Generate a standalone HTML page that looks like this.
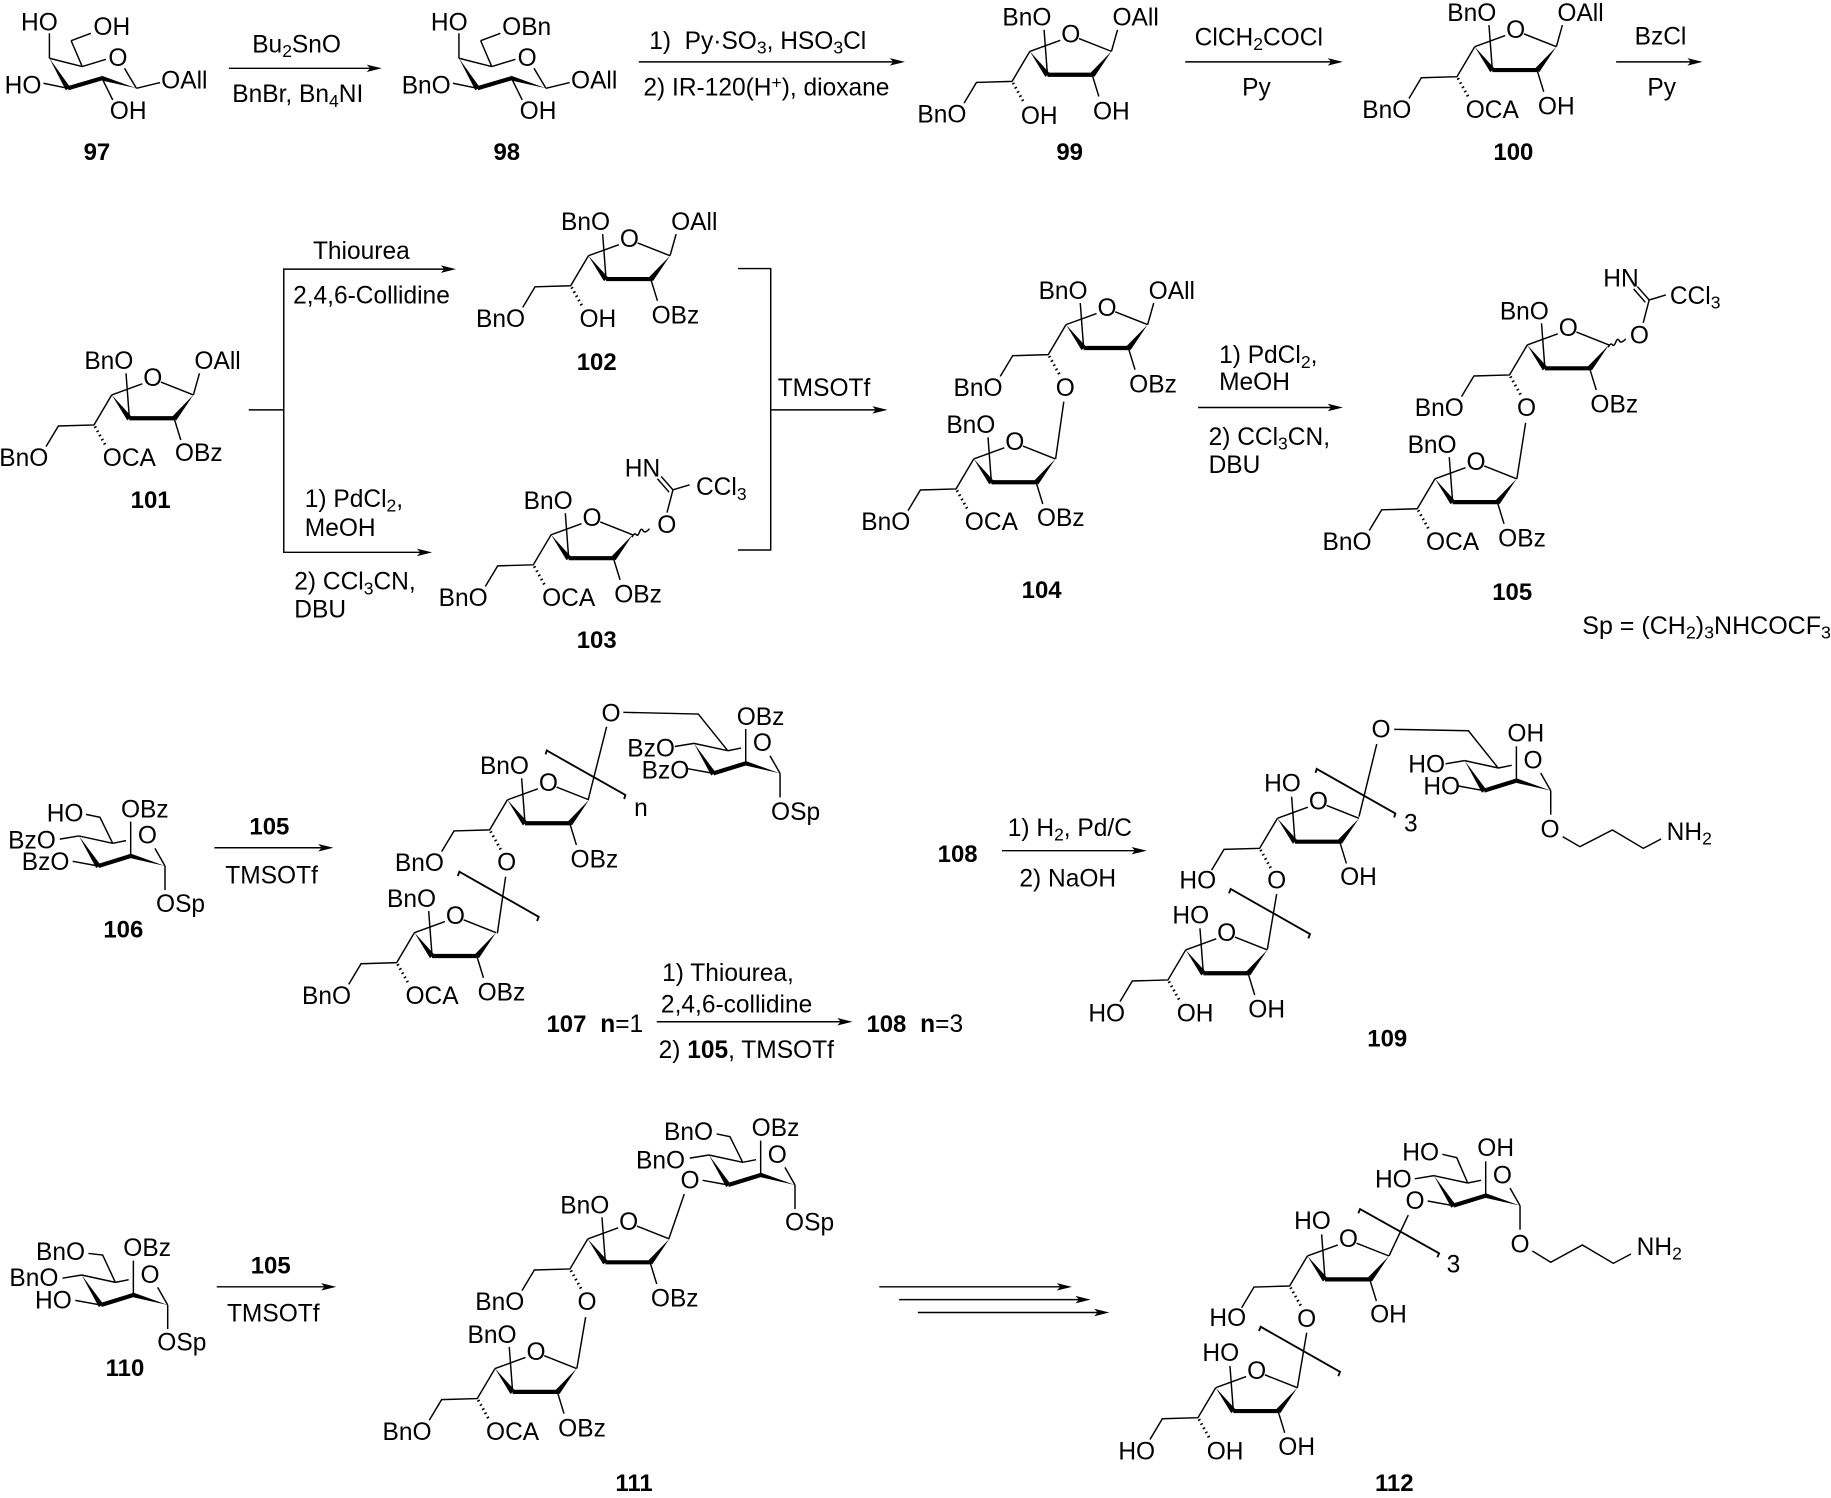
<!DOCTYPE html>
<html><head><meta charset="utf-8"><style>
html,body{margin:0;padding:0;background:#fff;width:1831px;height:1498px;overflow:hidden}
svg{display:block}
text{font-family:"Liberation Sans",Arial,sans-serif;font-size:21px;fill:#000}
.e{text-anchor:end}.m{text-anchor:middle}
.b{font-weight:bold;font-size:20.5px}
.s{font-size:15px}
.bw{font-weight:bold}
line,polyline,path{stroke:#000;stroke-width:1.25;fill:none}
.thick{stroke-width:3.6}
.br{stroke-width:1.6}
polygon{fill:#000;stroke:none}
.h{stroke-width:2.4;stroke-dasharray:1.3 2.8}
</style></head><body>
<svg xmlns="http://www.w3.org/2000/svg" width="1831" height="1498" viewBox="0 0 1568 1282.85">
<defs>
<g id="f">
<line x1="-2.9" y1="-38.5" x2="0" y2="0"/>
<polygon points="-15.1,-20 -1.8,1.8 1.9,-1.3"/>
<line class="thick" x1="0" y1="0" x2="38.3" y2="0"/>
<polygon points="54.8,-20 36.2,-1 40.2,1.8"/>
<line x1="54.8" y1="-20" x2="27" y2="-31"/>
<line x1="11" y1="-29.5" x2="-15.1" y2="-20"/>
<polyline points="-15.1,-20 -30.3,5.7 -60.8,6.6 -71.4,24.3"/>
<line x1="38.3" y1="0" x2="44" y2="18.6"/>
</g>
<line id="hb" class="h" x1="-29.5" y1="7" x2="-20" y2="24"/>
<line id="oa" x1="54.8" y1="-20" x2="60" y2="-38.5"/>
<g id="imi">
<path d="M54.2 -18 q2 -4 3.5 -2.2 t3 -2.2 t3 -1.2 t5.5 -1.6"/>
<line x1="84.2" y1="-39" x2="89.3" y2="-58.5"/>
<line x1="89.3" y1="-58.5" x2="79.2" y2="-70"/>
<line x1="86" y1="-56.5" x2="76" y2="-68"/>
<line x1="89.3" y1="-58.5" x2="103.6" y2="-62.8"/>
</g>
<g id="pa">
<polygon points="-15.9,-25.7 -1.8,1.8 1.8,-1"/>
<line class="thick" x1="0" y1="0" x2="29.1" y2="-8.6"/>
<polygon points="58.6,0 28.6,-10.8 29.4,-6.6"/>
<line x1="-15.9" y1="-25.7" x2="12.2" y2="-18.6"/>
<line x1="12.2" y1="-18.6" x2="32.5" y2="-24.8"/>
<line x1="58.6" y1="0" x2="48.4" y2="-17.1"/>
<line x1="12.2" y1="-18.6" x2="2.7" y2="-40.8"/>
<line x1="2.7" y1="-40.8" x2="19.6" y2="-47.1"/>
<line x1="-15.9" y1="-25.7" x2="-15.9" y2="-47.1"/>
<line x1="0" y1="0" x2="-21" y2="-4.3"/>
<line x1="29.1" y1="-8.6" x2="38.3" y2="10"/>
<line x1="58.6" y1="0" x2="78.9" y2="-4.9"/>
</g>
<g id="pb">
<polygon points="-16.6,-25.7 -1.8,1.8 1.8,-1"/>
<line class="thick" x1="0" y1="0" x2="27.7" y2="-8.6"/>
<polygon points="57.1,0 27.2,-10.8 28,-6.6"/>
<line x1="-16.6" y1="-25.7" x2="12.3" y2="-19.4"/>
<line x1="12.3" y1="-19.4" x2="23.7" y2="-21.7"/>
<line x1="57.1" y1="0" x2="48.5" y2="-15.1"/>
<line x1="27.7" y1="-8.6" x2="27.7" y2="-38"/>
<line x1="57.1" y1="0" x2="57.1" y2="20.6"/>
<line x1="-16.6" y1="-25.7" x2="-33" y2="-23"/>
<line x1="0" y1="0" x2="-22" y2="-4"/>
</g>
<polyline id="bu" class="br" points="17.6,-59 18.6,-62.3 85.9,-24.2 84.9,-20.7"/>
<polyline id="bl" class="br" points="22,-68.5 23.4,-72.2 91.3,-33.6 89.9,-29.9"/>
<polygon id="ah" points="0,0 -13,-3.2 -10,0 -13,3.2"/>
</defs>

<!-- 97 -->
<g transform="translate(58.2 75.6)"><use href="#pa"/></g>
<text x="18" y="26">HO</text><text x="80" y="30">OH</text><text x="4" y="80">HO</text><text class="m" x="101" y="56.5">O</text><text x="138" y="76">OAll</text><text x="94" y="102">OH</text><text class="b m" x="83" y="137">97</text>
<!-- arrow 1 -->
<line x1="196" y1="58.5" x2="320" y2="58.5"/><use href="#ah" x="327" y="58.5"/>
<text class="m" x="254" y="45">Bu<tspan class="s" dy="4">2</tspan><tspan dy="-4">SnO</tspan></text>
<text class="m" x="255" y="87.5">BnBr, Bn<tspan class="s" dy="4">4</tspan><tspan dy="-4">NI</tspan></text>
<!-- 98 -->
<g transform="translate(408.9 75.6)"><use href="#pa"/></g>
<text x="369" y="26">HO</text><text x="430" y="30">OBn</text><text x="344" y="80">BnO</text><text class="m" x="451.5" y="56.5">O</text><text x="489" y="76">OAll</text><text x="445" y="102">OH</text><text class="b m" x="434" y="137">98</text>
<!-- arrow 2 -->
<line x1="547" y1="53" x2="768" y2="53"/><use href="#ah" x="775" y="53"/>
<text x="556" y="42">1)&#160;&#160;Py·SO<tspan class="s" dy="4">3</tspan><tspan dy="-4">, HSO</tspan><tspan class="s" dy="4">3</tspan><tspan dy="-4">Cl</tspan></text>
<text x="551" y="82">2) IR-120(H<tspan class="s" dy="-6">+</tspan><tspan dy="6">), dioxane</tspan></text>
<!-- 99 -->
<g transform="translate(897 64)"><use href="#f"/><use href="#oa"/><use href="#hb"/>
<text class="e" x="3.4" y="-42">BnO</text><text class="m" x="20" y="-27.5">O</text><text x="55.7" y="-42">OAll</text><text class="e" x="-69.4" y="41">BnO</text><text x="-22.8" y="42">OH</text><text x="39" y="38.5">OH</text></g>
<text class="b m" x="916" y="137">99</text>
<!-- arrow 3 -->
<line x1="1015" y1="53" x2="1143" y2="53"/><use href="#ah" x="1150" y="53"/>
<text class="m" x="1078" y="39">ClCH<tspan class="s" dy="4">2</tspan><tspan dy="-4">COCl</tspan></text>
<text class="m" x="1076" y="82">Py</text>
<!-- 100 -->
<g transform="translate(1278 60)"><use href="#f"/><use href="#oa"/><use href="#hb"/>
<text class="e" x="3.4" y="-42">BnO</text><text class="m" x="20" y="-27.5">O</text><text x="55.7" y="-42">OAll</text><text class="e" x="-69.4" y="41">BnO</text><text x="-22.8" y="41">OCA</text><text x="39" y="38">OH</text></g>
<text class="b m" x="1296" y="137">100</text>
<!-- arrow 4 -->
<line x1="1384" y1="53" x2="1451" y2="53"/><use href="#ah" x="1458" y="53"/>
<text class="m" x="1422" y="38">BzCl</text><text class="m" x="1423" y="82">Py</text>

<!-- 101 -->
<g transform="translate(110.8 358.2)"><use href="#f"/><use href="#oa"/><use href="#hb"/>
<text class="e" x="3.4" y="-42">BnO</text><text class="m" x="20" y="-27.5">O</text><text x="55.7" y="-42">OAll</text><text class="e" x="-69.4" y="41">BnO</text><text x="-22.8" y="41">OCA</text><text x="39" y="36.5">OBz</text></g>
<text class="b m" x="129" y="435">101</text>
<!-- split -->
<polyline points="213,351 243,351"/>
<polyline points="384,230.5 243,230.5 243,473 363,473"/><use href="#ah" x="390.5" y="230.5"/><use href="#ah" x="370" y="473"/>
<text x="268" y="222">Thiourea</text><text x="251" y="260">2,4,6-Collidine</text>
<text x="261" y="434">1) PdCl<tspan class="s" dy="4">2</tspan><tspan dy="-4">,</tspan></text><text x="261" y="459">MeOH</text>
<text x="252" y="505">2) CCl<tspan class="s" dy="4">3</tspan><tspan dy="-4">CN,</tspan></text><text x="252" y="529">DBU</text>
<!-- 102 -->
<g transform="translate(519 239)"><use href="#f"/><use href="#oa"/><use href="#hb"/>
<text class="e" x="3.4" y="-42">BnO</text><text class="m" x="20" y="-27.5">O</text><text x="55.7" y="-42">OAll</text><text class="e" x="-69.4" y="41">BnO</text><text x="-22.8" y="41">OH</text><text x="39" y="38">OBz</text></g>
<text class="b m" x="511" y="317">102</text>
<!-- 103 -->
<g transform="translate(487 478)"><use href="#f"/><use href="#imi"/><use href="#hb"/>
<text class="e" x="3.4" y="-42">BnO</text><text class="m" x="20" y="-27.5">O</text><text class="m" x="84" y="-21.4">O</text><text x="48" y="-70">HN</text><text x="109" y="-54">CCl<tspan class="s" dy="4">3</tspan></text><text class="e" x="-69.4" y="41">BnO</text><text x="-22.8" y="41">OCA</text><text x="39" y="38">OBz</text></g>
<text class="b m" x="511" y="555">103</text>
<!-- bracket -->
<polyline points="632,230 660,230 660,471 632,471"/>
<line x1="660" y1="351" x2="753" y2="351"/><use href="#ah" x="760" y="351"/>
<text x="666" y="339">TMSOTf</text>
<!-- 104 -->
<g transform="translate(928 298)"><use href="#f"/><use href="#oa"/><use href="#hb"/>
<text class="e" x="3.4" y="-42">BnO</text><text class="m" x="20" y="-27.5">O</text><text x="55.7" y="-42">OAll</text><text class="e" x="-69.4" y="41">BnO</text><text class="m" x="-15.7" y="41">O</text><text x="39" y="38">OBz</text></g>
<line x1="911" y1="344" x2="904" y2="393"/>
<g transform="translate(849 413)"><use href="#f"/><use href="#hb"/>
<text class="e" x="3.4" y="-42">BnO</text><text class="m" x="20" y="-27.5">O</text><text class="e" x="-69.4" y="41">BnO</text><text x="-22.8" y="41">OCA</text><text x="39" y="37.5">OBz</text></g>
<text class="b m" x="892" y="512">104</text>
<!-- arrow -->
<line x1="1026" y1="349" x2="1143" y2="349"/><use href="#ah" x="1150" y="349"/>
<text x="1044" y="311">1) PdCl<tspan class="s" dy="4">2</tspan><tspan dy="-4">,</tspan></text><text x="1044" y="334">MeOH</text>
<text x="1035" y="381">2) CCl<tspan class="s" dy="4">3</tspan><tspan dy="-4">CN,</tspan></text><text x="1035" y="405">DBU</text>
<!-- 105 -->
<g transform="translate(1323 315.4)"><use href="#f"/><use href="#imi"/><use href="#hb"/>
<text class="e" x="3.4" y="-42">BnO</text><text class="m" x="20" y="-27.5">O</text><text class="m" x="81" y="-21.4">O</text><text x="50" y="-70">HN</text><text x="107" y="-55">CCl<tspan class="s" dy="4">3</tspan></text><text class="e" x="-69.4" y="41">BnO</text><text class="m" x="-15.7" y="41">O</text><text x="39" y="38">OBz</text></g>
<line x1="1306.5" y1="362" x2="1299" y2="410"/>
<g transform="translate(1244 430)"><use href="#f"/><use href="#hb"/>
<text class="e" x="3.4" y="-42">BnO</text><text class="m" x="20" y="-27.5">O</text><text class="e" x="-69.4" y="41">BnO</text><text x="-22.8" y="41">OCA</text><text x="39" y="38">OBz</text></g>
<text class="b m" x="1295" y="514">105</text>
<text x="1355" y="543" textLength="213" lengthAdjust="spacingAndGlyphs">Sp = (CH<tspan class="s" dy="4">2</tspan><tspan dy="-4">)</tspan><tspan class="s" dy="4">3</tspan><tspan dy="-4">NHCOCF</tspan><tspan class="s" dy="4">3</tspan></text>

<!-- 106 -->
<g transform="translate(84.2 741.6)"><use href="#pb"/>
<polyline points="12.3,-19.4 1.4,-41.7 -10.6,-44.2"/></g>
<text x="40" y="703.7">HO</text><text x="103.6" y="700">OBz</text><text x="7" y="726.5">BzO</text><text x="18.6" y="745">BzO</text><text class="m" x="126.2" y="722.5">O</text><text x="133.6" y="781">OSp</text>
<text class="b m" x="105.6" y="802.7">106</text>
<line x1="183.6" y1="726" x2="278.5" y2="726"/><use href="#ah" x="285.5" y="726"/>
<text class="b m" x="230.7" y="714.5">105</text><text class="m" x="232.6" y="756.5">TMSOTf</text>
<!-- 107 -->
<g transform="translate(449.6 705)"><use href="#f"/><use href="#bu"/><use href="#hb"/>
<text class="e" x="3.4" y="-42">BnO</text><text class="m" x="20" y="-27.5">O</text><text class="e" x="-69.4" y="41">BnO</text><text class="m" x="-15.7" y="40.6">O</text><text x="39" y="38">OBz</text></g>
<line x1="503.8" y1="684.5" x2="519.5" y2="622.3"/>
<text class="m" x="523.3" y="618">O</text>
<text x="543" y="699">n</text>
<line x1="433" y1="750.8" x2="425.9" y2="799.3"/>
<g transform="translate(370 818.7)"><use href="#f"/><use href="#bl"/><use href="#hb"/>
<text class="e" x="3.4" y="-42">BnO</text><text class="m" x="20" y="-27.5">O</text><text class="e" x="-69.4" y="41">BnO</text><text x="-22.8" y="41">OCA</text><text x="39" y="38">OBz</text></g>
<g transform="translate(610.9 662.3)"><use href="#pb"/></g>
<polyline points="533.8,610 598,611.5 623.2,642.9"/>
<text x="630.9" y="620.9">OBz</text><text x="537.2" y="648">BzO</text><text x="549.5" y="666.5">BzO</text><text class="m" x="652.9" y="643.3">O</text><text x="660.3" y="702.2">OSp</text>
<text class="b" x="468" y="884">107</text><text x="514" y="884"><tspan class="bw">n</tspan>=1</text>
<!-- arrow 107-108 -->
<line x1="562.4" y1="875" x2="723" y2="875"/><use href="#ah" x="730" y="875"/>
<text x="567" y="840">1) Thiourea,</text><text x="566" y="867">2,4,6-collidine</text><text x="564" y="906">2) <tspan class="bw">105</tspan>, TMSOTf</text>
<text class="b" x="742" y="884">108</text><text x="788" y="884"><tspan class="bw">n</tspan>=3</text>
<!-- 108 arrow -->
<text class="b" x="803" y="738">108</text>
<line x1="858" y1="728.5" x2="975" y2="728.5"/><use href="#ah" x="982" y="728.5"/>
<text x="863" y="716">1) H<tspan class="s" dy="4">2</tspan><tspan dy="-4">, Pd/C</tspan></text><text x="873" y="759">2) NaOH</text>
<!-- 109 -->
<g transform="translate(1109 720.8)"><use href="#f"/><use href="#bu"/><use href="#hb"/>
<text x="-26.5" y="-43">HO</text><text class="m" x="20" y="-27.5">O</text><text x="-99" y="40">HO</text><text class="m" x="-15.7" y="40">O</text><text x="38.6" y="37">OH</text></g>
<line x1="1179" y1="637.2" x2="1163.8" y2="699.4"/>
<text class="m" x="1182.7" y="631.7">O</text><text x="1202.4" y="712.2">3</text>
<line x1="1093.3" y1="765.6" x2="1085.3" y2="813"/>
<g transform="translate(1030.5 833.5)"><use href="#f"/><use href="#bl"/><use href="#hb"/>
<text x="-26.5" y="-42.8">HO</text><text class="m" x="20" y="-27.5">O</text><text x="-98.5" y="41.5">HO</text><text x="-22.8" y="41.5">OH</text><text x="38.5" y="37.7">OH</text></g>
<g transform="translate(1270.9 677.1)"><use href="#pb"/></g>
<polyline points="1194,624.6 1257.5,625.8 1283.2,658"/>
<text x="1206" y="661.7">HO</text><text x="1218.9" y="680.3">HO</text><text x="1290.9" y="635.2">OH</text><text class="m" x="1312.9" y="658.1">O</text>
<text class="m" x="1327.4" y="717.4">O</text>
<polyline points="1338.2,716.5 1353,725.1 1380.8,710.8 1407.3,726.5 1422.5,718.5"/>
<text x="1427.3" y="719.4">NH<tspan class="s" dy="4">2</tspan></text>
<text class="b m" x="1188" y="896">109</text>

<!-- 110 -->
<g transform="translate(86.5 1117.6)"><use href="#pb"/>
<polyline points="12.3,-19.4 1.4,-42.8 -10.8,-44.2"/></g>
<text x="30.8" y="1079">BnO</text><text x="105.6" y="1075.6">OBz</text><text x="8" y="1101.3">BnO</text><text x="30" y="1120.5">HO</text><text class="m" x="128.5" y="1098.6">O</text><text x="134.7" y="1156.6">OSp</text>
<text class="b m" x="107" y="1178.4">110</text>
<line x1="185.6" y1="1102" x2="281" y2="1102"/><use href="#ah" x="288" y="1102"/>
<text class="b m" x="231.8" y="1090.5">105</text><text class="m" x="234" y="1131.9">TMSOTf</text>
<!-- 111 -->
<g transform="translate(518.4 1081)"><use href="#f"/><use href="#hb"/>
<text class="e" x="3.4" y="-42">BnO</text><text class="m" x="20" y="-27.5">O</text><text class="e" x="-69.4" y="41">BnO</text><text class="m" x="-15.7" y="41">O</text><text x="39" y="38">OBz</text></g>
<line x1="586" y1="1022.5" x2="572.9" y2="1060.5"/>
<text class="m" x="590.9" y="1017.7">O</text>
<line x1="501.5" y1="1128" x2="494" y2="1172"/>
<g transform="translate(439 1192)"><use href="#f"/><use href="#hb"/>
<text class="e" x="3.4" y="-42">BnO</text><text class="m" x="20" y="-27.5">O</text><text class="e" x="-69.4" y="41">BnO</text><text x="-22.8" y="41">OCA</text><text x="39" y="38">OBz</text></g>
<g transform="translate(623.7 1014.8)"><use href="#pb"/>
<polyline points="12.3,-19.4 1.4,-41.4 -10,-43.7"/></g>
<text x="568.6" y="976.3">BnO</text><text x="643.7" y="972.9">OBz</text><text x="544.7" y="1000.5">BnO</text><text class="m" x="665.7" y="995.8">O</text><text x="672.3" y="1053.9">OSp</text>
<text class="b m" x="543" y="1277">111</text>
<!-- triple arrows -->
<line x1="753" y1="1102" x2="911" y2="1102"/><use href="#ah" x="918" y="1102"/>
<line x1="770" y1="1113" x2="927" y2="1113"/><use href="#ah" x="934" y="1113"/>
<line x1="786" y1="1124" x2="943" y2="1124"/><use href="#ah" x="950" y="1124"/>
<!-- 112 -->
<g transform="translate(1134.7 1095.6)"><use href="#f"/><use href="#hb"/>
<text x="-26.5" y="-43">HO</text><text class="m" x="20" y="-27.5">O</text><text x="-99" y="40">HO</text><text class="m" x="-15.7" y="40.6">O</text><text x="38.6" y="37">OH</text></g>
<polyline class="br" points="1163.2,1039 1164.7,1035.4 1232.4,1073.3 1230.9,1076.7"/>
<line x1="1206" y1="1040.5" x2="1189.5" y2="1075.6"/>
<text class="m" x="1211.8" y="1035.4">O</text><text x="1238.9" y="1089.6">3</text>
<line x1="1119" y1="1141.3" x2="1111" y2="1188.4"/>
<g transform="translate(1056.2 1208.4)"><use href="#f"/><use href="#bl"/><use href="#hb"/>
<text x="-26.5" y="-42.8">HO</text><text class="m" x="20" y="-27.5">O</text><text x="-98.5" y="41.5">HO</text><text x="-22.8" y="41.5">OH</text><text x="38.5" y="37.7">OH</text></g>
<g transform="translate(1244.6 1032.5)"><use href="#pb"/>
<polyline points="12.3,-19.4 2.9,-41.1 -9.4,-44"/></g>
<text x="1200.9" y="994">HO</text><text x="1177.5" y="1017.1">HO</text><text x="1265.1" y="990">OH</text><text class="m" x="1286.6" y="1013.5">O</text>
<text class="m" x="1301.7" y="1072.5">O</text>
<polyline points="1312.3,1071.3 1328,1081 1355.1,1066.2 1381.6,1081.9 1396.7,1073.9"/>
<text x="1401.6" y="1074.7">NH<tspan class="s" dy="4">2</tspan></text>
<text class="b m" x="1194" y="1277">112</text>
</svg>
</body></html>
